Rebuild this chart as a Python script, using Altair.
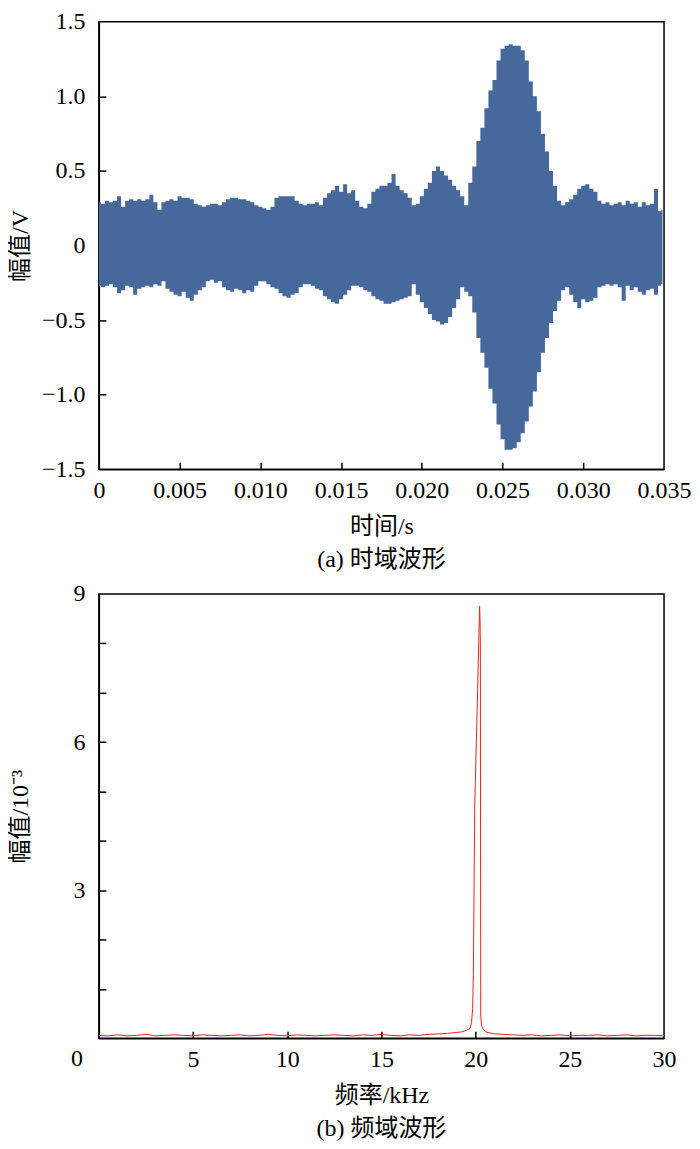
import altair as alt
import pandas as pd

# ---------------- (a) time-domain waveform: envelope ----------------
time_s = [round(i * 0.00025, 5) for i in range(140)] + [0.0349]
upper_v = [
    0.29, 0.28, 0.30, 0.29, 0.30, 0.33, 0.26, 0.30, 0.31, 0.30,
    0.31, 0.30, 0.31, 0.34, 0.29, 0.24, 0.29, 0.30, 0.31, 0.30,
    0.33, 0.32, 0.32, 0.31, 0.28, 0.27, 0.26, 0.27, 0.28, 0.28,
    0.27, 0.29, 0.31, 0.32, 0.32, 0.31, 0.31, 0.30, 0.29, 0.27,
    0.26, 0.25, 0.24, 0.26, 0.32, 0.33, 0.33, 0.33, 0.33, 0.30,
    0.28, 0.27, 0.28, 0.28, 0.29, 0.27, 0.32, 0.35, 0.37, 0.40,
    0.36, 0.41, 0.35, 0.37, 0.30, 0.26, 0.25, 0.28, 0.36, 0.38,
    0.40, 0.40, 0.42, 0.48, 0.40, 0.37, 0.35, 0.32, 0.27, 0.28,
    0.33, 0.38, 0.42, 0.50, 0.53, 0.50, 0.47, 0.44, 0.40, 0.37,
    0.33, 0.27, 0.42, 0.53, 0.70, 0.79, 0.92, 1.04, 1.11, 1.24,
    1.32, 1.34, 1.35, 1.34, 1.34, 1.31, 1.24, 1.10, 1.00, 0.90,
    0.75, 0.63, 0.50, 0.40, 0.30, 0.27, 0.29, 0.31, 0.34, 0.38,
    0.40, 0.41, 0.38, 0.36, 0.30, 0.28, 0.29, 0.27, 0.28, 0.29,
    0.27, 0.30, 0.28, 0.29, 0.26, 0.29, 0.27, 0.28, 0.38, 0.23,
    0.24,
]
lower_v = [
    -0.27, -0.28, -0.27, -0.26, -0.28, -0.32, -0.30, -0.27, -0.28, -0.33,
    -0.29, -0.28, -0.27, -0.28, -0.26, -0.27, -0.24, -0.29, -0.31, -0.33,
    -0.34, -0.31, -0.35, -0.37, -0.33, -0.30, -0.28, -0.24, -0.23, -0.25,
    -0.24, -0.28, -0.30, -0.31, -0.29, -0.30, -0.32, -0.30, -0.31, -0.27,
    -0.24, -0.24, -0.26, -0.28, -0.29, -0.32, -0.34, -0.35, -0.33, -0.32,
    -0.28, -0.26, -0.26, -0.27, -0.29, -0.30, -0.34, -0.36, -0.38, -0.39,
    -0.36, -0.33, -0.30, -0.27, -0.27, -0.28, -0.30, -0.31, -0.34, -0.36,
    -0.37, -0.39, -0.39, -0.38, -0.37, -0.36, -0.35, -0.34, -0.26, -0.33,
    -0.38, -0.42, -0.46, -0.50, -0.51, -0.53, -0.52, -0.48, -0.42, -0.36,
    -0.28, -0.31, -0.34, -0.45, -0.62, -0.72, -0.82, -0.96, -1.06, -1.20,
    -1.30, -1.37, -1.37, -1.36, -1.32, -1.26, -1.18, -1.08, -0.98, -0.85,
    -0.72, -0.62, -0.52, -0.44, -0.37, -0.30, -0.28, -0.33, -0.38, -0.42,
    -0.36, -0.38, -0.37, -0.35, -0.28, -0.27, -0.26, -0.27, -0.26, -0.28,
    -0.37, -0.27, -0.30, -0.28, -0.31, -0.33, -0.30, -0.29, -0.33, -0.27,
    -0.26,
]
x_ticks_a = [0, 0.005, 0.010, 0.015, 0.020, 0.025, 0.030, 0.035]
y_ticks_a = [-1.5, -1.0, -0.5, 0, 0.5, 1.0, 1.5]

# ---------------- (b) spectrum (amplitude in 1e-3) ----------------
floor_lo_f = [i * 0.5 for i in range(39)]            # 0 .. 19.0 kHz
floor_lo_a = [0.06, 0.05, 0.07, 0.05, 0.06, 0.08, 0.05, 0.06, 0.07, 0.06,
              0.05, 0.07, 0.06, 0.05, 0.06, 0.07, 0.05, 0.06, 0.08, 0.06,
              0.05, 0.07, 0.06, 0.05, 0.06, 0.07, 0.06, 0.05, 0.07, 0.06,
              0.08, 0.06, 0.05, 0.07, 0.06, 0.08, 0.09, 0.10, 0.12]
peak_f = [19.25, 19.5, 19.7, 19.78, 19.84, 19.88, 19.95, 20.05, 20.12, 20.18,
          20.21, 20.235, 20.25, 20.27, 20.32, 20.4, 20.6, 21.0]
peak_a = [0.13, 0.16, 0.20, 0.32, 0.60, 1.30, 4.70, 6.20, 7.30, 8.30,
          8.75, 8.45, 8.00, 0.45, 0.25, 0.18, 0.12, 0.09]
floor_hi_f = [21.5 + i * 0.5 for i in range(18)]     # 21.5 .. 30 kHz
floor_hi_a = [0.08, 0.07, 0.06, 0.07, 0.05, 0.06, 0.07, 0.05, 0.06, 0.06,
              0.07, 0.05, 0.06, 0.07, 0.05, 0.06, 0.06, 0.05]
x_ticks_b = [0, 5, 10, 15, 20, 25, 30]
y_ticks_b = [0, 1, 2, 3, 4, 5, 6, 7, 8, 9]

BLUE = "#47689b"
RED = "#e8231d"
FONT = "'Liberation Serif', 'Noto Sans CJK SC', serif"
W, H1, H2 = 566, 448, 445
LAB = 24

df_a = pd.DataFrame({"t": time_s, "up": upper_v, "lo": lower_v})
df_b = pd.DataFrame({"f": floor_lo_f + peak_f + floor_hi_f,
                     "a": floor_lo_a + peak_a + floor_hi_a})

xa = alt.Scale(domain=[0, 0.035], nice=False, zero=False)
ya = alt.Scale(domain=[-1.5, 1.5], nice=False)
xb = alt.Scale(domain=[0, 30], nice=False)
yb = alt.Scale(domain=[0, 9], nice=False)

area = alt.Chart(df_a).mark_area(color=BLUE, opacity=1, interpolate="step").encode(
    x=alt.X("t:Q", scale=xa, axis=alt.Axis(
        orient="bottom", values=x_ticks_a, ticks=False, labelPadding=9,
        labelOverlap=False, labelFlush=False,
        labelExpr="datum.value == 0 ? '0' : format(datum.value, '.3f')",
        title="时间/s", titlePadding=12)),
    y=alt.Y("up:Q", scale=ya, axis=alt.Axis(
        orient="left", values=y_ticks_a, ticks=False, labelPadding=14,
        labelOverlap=False, labelFlush=False,
        labelExpr="datum.value == 0 ? '0' : format(datum.value, '.1f')",
        title="幅值/V", titleX=-66, titleY=H1 / 2)),
    y2="lo:Q",
)
ticks_a = alt.Chart(df_a).mark_line(opacity=0).encode(
    x=alt.X("t:Q", scale=xa, axis=alt.Axis(
        orient="top", offset=-H1, values=x_ticks_a[1:-1], labels=False,
        domain=False, title=None, ticks=True, tickSize=7)),
    y=alt.Y("up:Q", scale=ya, axis=alt.Axis(
        orient="right", offset=-W, values=y_ticks_a[1:-1], labels=False,
        domain=False, title=None, ticks=True, tickSize=7)),
)
top = alt.layer(area, ticks_a).resolve_axis(x="independent", y="independent").properties(
    width=W, height=H1,
    title=alt.TitleParams("(a) 时域波形", orient="bottom", frame="group"),
)

line = alt.Chart(df_b).mark_line(color=RED, strokeWidth=1).encode(
    x=alt.X("f:Q", scale=xb, axis=alt.Axis(
        orient="bottom", values=x_ticks_b, ticks=False, labelPadding=9,
        labelOverlap=False, labelFlush=False,
        labelExpr="datum.value == 0 ? '' : datum.label",
        title="频率/kHz", titlePadding=12)),
    y=alt.Y("a:Q", scale=yb, axis=alt.Axis(
        orient="left", values=y_ticks_b, ticks=False, labelPadding=14,
        labelOverlap=False, labelFlush=False,
        labelExpr="(datum.value % 3 == 0 && datum.value > 0) ? datum.label : ''",
        title="幅值/10⁻³", titleX=-66, titleY=H2 / 2)),
)
ticks_b = alt.Chart(df_b).mark_line(opacity=0).encode(
    x=alt.X("f:Q", scale=xb, axis=alt.Axis(
        orient="top", offset=-H2, values=x_ticks_b[1:-1], labels=False,
        domain=False, title=None, ticks=True, tickSize=7)),
    y=alt.Y("a:Q", scale=yb, axis=alt.Axis(
        orient="right", offset=-W, values=y_ticks_b[1:-1], labels=False,
        domain=False, title=None, ticks=True, tickSize=7)),
)
origin_label = alt.Chart(pd.DataFrame({"f": [0], "a": [0], "s": ["0"]})).mark_text(
    dx=-22, dy=21, fontSize=LAB, font=FONT, color="black").encode(
    x=alt.X("f:Q", scale=xb, axis=None),
    y=alt.Y("a:Q", scale=yb, axis=None),
    text="s:N",
)
bottom = alt.layer(line, ticks_b, origin_label).resolve_axis(
    x="independent", y="independent").properties(
    width=W, height=H2,
    title=alt.TitleParams("(b) 频域波形", orient="bottom", frame="group"),
)

chart = alt.vconcat(top, bottom, spacing=8).properties(
    padding={"left": 0, "top": 0, "right": 0, "bottom": 0}
).configure_axis(
    grid=False, labelFont=FONT, titleFont=FONT, labelFontSize=LAB, titleFontSize=24,
    labelColor="black", titleColor="black", titleFontWeight="normal",
    domainColor="black", domainWidth=1.5, tickColor="black", tickWidth=1.5,
).configure_title(
    font=FONT, fontSize=24, fontWeight="normal", color="black", offset=10,
).configure_view(stroke="black", strokeWidth=1.5)

chart.save("out.html", embed_options={"renderer": "svg", "actions": False})
